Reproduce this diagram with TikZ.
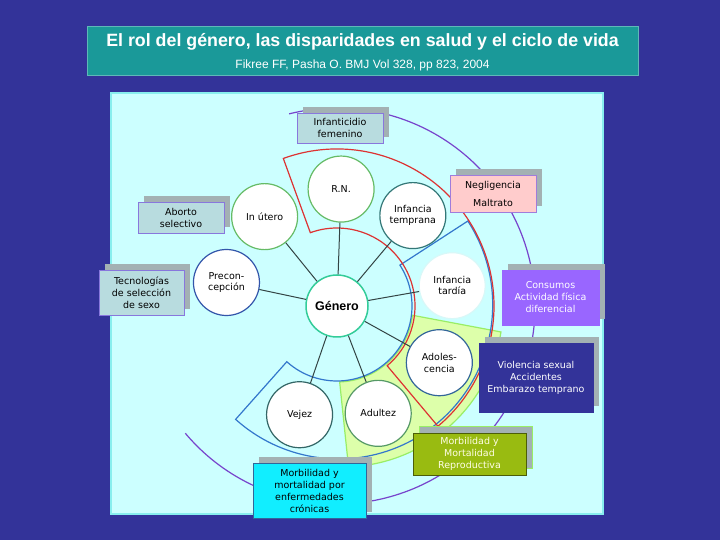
\documentclass[tikz,border=0pt]{standalone}
\usepackage{fontspec}
\setmainfont{DejaVu Sans}
\newfontfamily\titfont{Liberation Sans}
\usetikzlibrary{shadows}

\definecolor{fondo}{HTML}{333399}
\definecolor{cabeza}{HTML}{1A9999}
\definecolor{panel}{HTML}{CCFFFF}
\definecolor{panelborde}{HTML}{88EEEE}
\definecolor{sombra}{HTML}{A3B1B3}
\definecolor{cajaazul}{HTML}{B8DCDF}
\definecolor{lila}{HTML}{8877DD}
\definecolor{rosa}{HTML}{FFCCCC}
\definecolor{violeta}{HTML}{9966FF}
\definecolor{oliva}{HTML}{99BB11}
\definecolor{cian}{HTML}{11EEFF}
\definecolor{rojo}{HTML}{DD3333}
\definecolor{azul}{HTML}{3377CC}
\definecolor{morado}{HTML}{7744CC}
\definecolor{verdeclaro}{HTML}{DDFFAA}
\definecolor{verdeborde}{HTML}{99EE66}
\definecolor{gris}{HTML}{334444}
\definecolor{verdegen}{HTML}{33CC99}
\definecolor{verdeet}{HTML}{66BB66}
\definecolor{petroleo}{HTML}{337777}
\definecolor{azulet}{HTML}{3355AA}
\definecolor{claro}{HTML}{D8F8F8}
\definecolor{marino}{HTML}{336699}
\definecolor{verdeos}{HTML}{559966}
\definecolor{grisverde}{HTML}{336666}

\begin{document}
\begin{tikzpicture}[x=1pt,y=1pt,
	etapa/.style={circle,draw,fill=white,line width=1.2pt,minimum size=66pt,inner sep=0pt,align=center,font=\fontsize{9.5}{11.5}\selectfont},
	caja/.style={draw=lila,line width=0.8pt,align=center,inner sep=2pt,font=\fontsize{9.5}{12}\selectfont,general shadow={fill=sombra,shadow xshift=6pt,shadow yshift=6pt}},
	radio/.style={draw=gris,line width=1pt},
	arco/.style={line width=1.2pt}]
	\useasboundingbox (0,0) rectangle (720,540);
	\fill[fondo] (0,0) rectangle (720,540);
	
	\node[fill=cabeza,draw=cabeza!70!white,line width=1pt,minimum width=551pt,minimum height=49pt] (cabecera) at (362.5,488.5) {};
	\node[text=white,font=\titfont\bfseries\fontsize{17.8}{20}\selectfont] (titulo) at (362.5,498) {El rol del género, las disparidades en salud y el ciclo de vida};
	\node[text=white,font=\titfont\fontsize{12}{14}\selectfont] (fuente) at (362.5,474.5) {Fikree FF, Pasha O. BMJ Vol 328, pp 823, 2004};
	
	\node[fill=panel,draw=panelborde,line width=1.5pt,minimum width=492pt,minimum height=421pt] (marco) at (357,236.5) {};
	
	\begin{scope}[shift={(337,234)}]
		\fill[verdeclaro] (-7:76) -- (-9:166) arc[start angle=-9,end angle=-88,radius=160] -- (-88:76) arc[start angle=-88,end angle=-7,radius=76] -- cycle;
		\draw[verdeborde,arco] (-7:76) -- (-9:166) arc[start angle=-9,end angle=-88,radius=160] -- (-88:76) arc[start angle=-88,end angle=-7,radius=76] -- cycle;
		\draw[azul,arco] (33:75) -- (33:156) arc[start angle=33,end angle=-132,radius=154] -- (-132:75) arc[start angle=-132,end angle=33,radius=75] -- cycle;
		\draw[rojo,arco] (110:78) -- (110:157) arc[start angle=110,end angle=-50,radius=157] -- (-50:78) arc[start angle=-50,end angle=110,radius=78] -- cycle;
		\draw[morado,arco] (104:198) arc[start angle=104,end angle=-140,radius=198];
		
		\node[etapa,draw=verdegen,line width=1.5pt,minimum size=62pt,font=\titfont\bfseries\fontsize{12.5}{14}\selectfont] (genero) at (0,0) {Género};
		\node[etapa,draw=verdeet] (rn) at (88:117) {R.N.};
		\node[etapa,draw=verdeet] (utero) at (129:115) {In útero};
		\node[etapa,draw=petroleo] (temprana) at (50:118) {Infancia\\temprana};
		\node[etapa,draw=azulet] (precon) at (168:113) {Precon-\\cepción};
		\node[etapa,draw=claro] (tardia) at (10:117) {Infancia\\tardía};
		\node[etapa,draw=marino] (adoles) at (-29:117) {Adoles-\\cencia};
		\node[etapa,draw=verdeos] (adultez) at (-69:115) {Adultez};
		\node[etapa,draw=grisverde] (vejez) at (-109:115) {Vejez};
		\foreach \e in {rn,utero,temprana,precon,tardia,adoles,adultez,vejez}
			\draw[radio] (genero) -- (\e);
	\end{scope}
	
	\node[caja,fill=cajaazul,minimum width=86pt,minimum height=30pt] (infanticidio) at (340,412) {Infanticidio\\femenino};
	\node[caja,fill=rosa,draw=morado!70,minimum width=86pt,minimum height=37pt] (negligencia) at (493,346.5) {Negligencia\\[6pt]Maltrato};
	\node[caja,fill=cajaazul,minimum width=86pt,minimum height=31pt] (aborto) at (181,322.5) {Aborto\\selectivo};
	\node[caja,fill=cajaazul,minimum width=85pt,minimum height=45pt] (tecnologias) at (141.5,247.5) {Tecnologías\\de selección\\de sexo};
	\node[caja,fill=violeta,draw=violeta,text=white,minimum width=97pt,minimum height=55pt] (consumos) at (550.5,242.5) {Consumos\\Actividad física\\diferencial};
	\node[caja,fill=fondo,draw=fondo,text=white,minimum width=114pt,minimum height=69pt] (violencia) at (536,162.5) {Violencia sexual\\Accidentes\\Embarazo temprano};
	\node[caja,fill=oliva,draw=oliva!50!black,text=white!90!yellow,minimum width=113pt,minimum height=42pt,general shadow={fill=sombra,draw=verdeborde,line width=1pt,shadow xshift=6pt,shadow yshift=6pt}] (reproductiva) at (469.5,86) {Morbilidad y\\Mortalidad\\Reproductiva};
	\node[caja,fill=cian,draw=marino,minimum width=113pt,minimum height=55pt] (cronicas) at (309.5,49.5) {Morbilidad y\\mortalidad por\\enfermedades\\crónicas};
\end{tikzpicture}
\end{document}
